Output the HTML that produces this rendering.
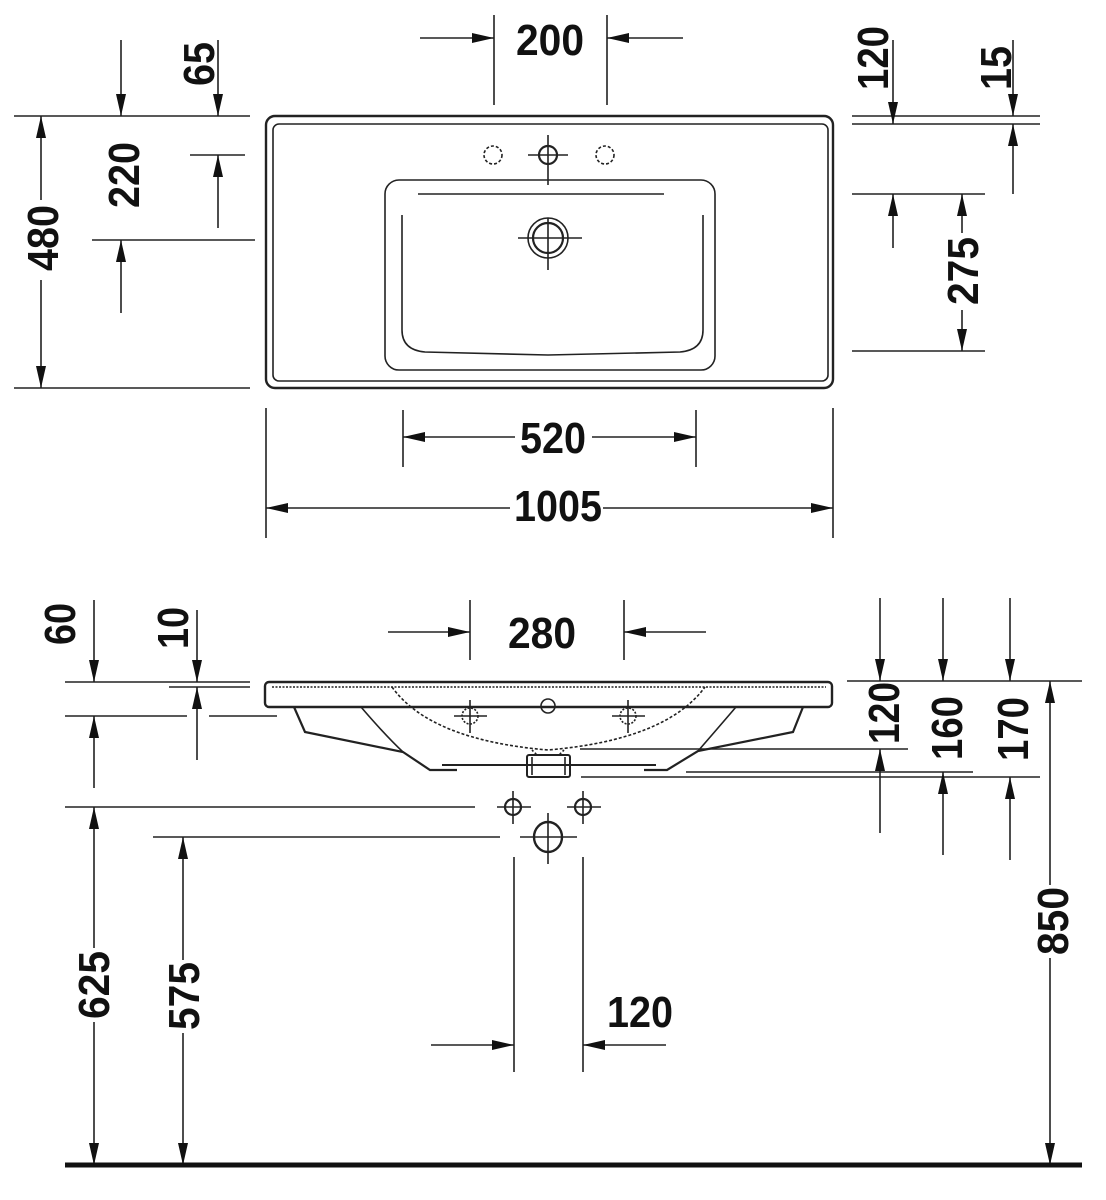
<!DOCTYPE html>
<html><head><meta charset="utf-8"><style>
html,body{margin:0;padding:0;background:#fff}
svg{display:block}
text{font-family:"Liberation Sans",sans-serif;font-weight:bold;font-size:44px;fill:#111}
</style></head><body>
<svg width="1106" height="1200" viewBox="0 0 1106 1200" xmlns="http://www.w3.org/2000/svg">
<g stroke="#222" stroke-width="1.6" fill="none">
<!-- TOP VIEW basin -->
<rect x="266" y="116" width="567" height="272" rx="9" stroke-width="2.4"/>
<rect x="273" y="124" width="555" height="257" rx="6"/>
<rect x="385" y="180" width="330" height="190" rx="14"/>
<path d="M402 215 V330 Q402 350 425 352 L548 355 L680 352 Q703 350 703 330 V215"/>
<line x1="418" y1="194" x2="664" y2="194"/>
<circle cx="548" cy="155" r="9" stroke-width="2.2"/>
<line x1="528" y1="155" x2="568" y2="155"/><line x1="548" y1="135" x2="548" y2="185"/>
<circle cx="493" cy="155" r="9" stroke-dasharray="3 2"/>
<circle cx="605" cy="155" r="9" stroke-dasharray="3 2"/>
<circle cx="548" cy="238" r="20"/><circle cx="548" cy="238" r="15" stroke-width="2.2"/>
<line x1="518" y1="238" x2="582" y2="238"/><line x1="548" y1="218" x2="548" y2="270"/>

<!-- top dimensions -->
<line x1="494" y1="15" x2="494" y2="105"/><line x1="607" y1="15" x2="607" y2="105"/>
<line x1="420" y1="38" x2="494" y2="38"/><line x1="607" y1="38" x2="683" y2="38"/>
<line x1="121" y1="40" x2="121" y2="116"/><line x1="218" y1="40" x2="218" y2="116"/>
<line x1="14" y1="116" x2="250" y2="116"/><line x1="14" y1="388" x2="250" y2="388"/>
<line x1="41" y1="116" x2="41" y2="200"/><line x1="41" y1="280" x2="41" y2="388"/>
<line x1="190" y1="155" x2="245" y2="155"/><line x1="92" y1="240" x2="255" y2="240"/>
<line x1="218" y1="155" x2="218" y2="228"/><line x1="121" y1="240" x2="121" y2="313"/>
<line x1="852" y1="116" x2="1040" y2="116"/><line x1="852" y1="124" x2="1040" y2="124"/>
<line x1="893" y1="40" x2="893" y2="124"/><line x1="1013" y1="40" x2="1013" y2="116"/>
<line x1="1013" y1="124" x2="1013" y2="194"/>
<line x1="852" y1="194" x2="985" y2="194"/><line x1="852" y1="351" x2="985" y2="351"/>
<line x1="893" y1="194" x2="893" y2="248"/>
<line x1="962" y1="194" x2="962" y2="233"/><line x1="962" y1="310" x2="962" y2="351"/>
<line x1="403" y1="410" x2="403" y2="467"/><line x1="696" y1="410" x2="696" y2="467"/>
<line x1="403" y1="437" x2="515" y2="437"/><line x1="592" y1="437" x2="696" y2="437"/>
<line x1="266" y1="408" x2="266" y2="538"/><line x1="833" y1="408" x2="833" y2="538"/>
<line x1="266" y1="508" x2="510" y2="508"/><line x1="603" y1="508" x2="833" y2="508"/>

<!-- SIDE VIEW -->
<rect x="265" y="682" width="567" height="25" rx="4" stroke-width="2.4"/>
<line x1="272" y1="687" x2="826" y2="687" stroke-dasharray="2 1.5"/>
<polyline points="294,707 305,732 403,752 430,770 457,770" stroke-width="2.2"/>
<polyline points="803,707 793,732 698,751 667,770 644,770" stroke-width="2.2"/>
<line x1="442" y1="765" x2="656" y2="765" stroke-width="2"/>
<path d="M361 707 Q385 735 403 752"/><path d="M736 707 Q712 735 698 751"/>
<path d="M392 687 Q430 740 548 750 Q666 740 705 687" stroke-dasharray="3 2"/>
<path d="M532 750 L537 755 M564 750 L559 755" stroke-dasharray="2 2"/>
<rect x="527" y="755" width="43" height="22" rx="2" stroke-width="2"/>
<line x1="532" y1="757" x2="532" y2="775"/><line x1="565" y1="757" x2="565" y2="775"/>
<ellipse cx="548" cy="706" rx="7" ry="7"/>
<circle cx="470" cy="716" r="8" stroke-dasharray="2 1.5"/>
<line x1="454" y1="716" x2="487" y2="716"/><line x1="470" y1="700" x2="470" y2="733"/>
<circle cx="628" cy="716" r="8" stroke-dasharray="2 1.5"/>
<line x1="612" y1="716" x2="645" y2="716"/><line x1="628" y1="700" x2="628" y2="733"/>
<circle cx="513" cy="807" r="8" stroke-width="2.2"/>
<line x1="497" y1="807" x2="531" y2="807"/><line x1="513" y1="791" x2="513" y2="824"/>
<circle cx="583" cy="807" r="8" stroke-width="2.2"/>
<line x1="567" y1="807" x2="601" y2="807"/><line x1="583" y1="791" x2="583" y2="824"/>
<ellipse cx="548" cy="837" rx="14" ry="15" stroke-width="2.4"/>
<line x1="520" y1="837" x2="577" y2="837"/><line x1="548" y1="813" x2="548" y2="864"/>

<!-- side dims -->
<line x1="65" y1="682" x2="250" y2="682"/><line x1="169" y1="687" x2="250" y2="687"/>
<line x1="65" y1="716" x2="187" y2="716"/><line x1="209" y1="716" x2="277" y2="716"/>
<line x1="94" y1="600" x2="94" y2="682"/><line x1="94" y1="716" x2="94" y2="788"/>
<line x1="197" y1="610" x2="197" y2="682"/><line x1="197" y1="687" x2="197" y2="760"/>
<line x1="470" y1="600" x2="470" y2="660"/><line x1="624" y1="600" x2="624" y2="660"/>
<line x1="388" y1="632" x2="470" y2="632"/><line x1="624" y1="632" x2="706" y2="632"/>
<line x1="65" y1="807" x2="475" y2="807"/><line x1="153" y1="837" x2="500" y2="837"/>
<line x1="94" y1="807" x2="94" y2="948"/><line x1="94" y1="1022" x2="94" y2="1165"/>
<line x1="183" y1="837" x2="183" y2="960"/><line x1="183" y1="1033" x2="183" y2="1165"/>
<line x1="514" y1="857" x2="514" y2="1072"/><line x1="583" y1="857" x2="583" y2="1072"/>
<line x1="431" y1="1045" x2="514" y2="1045"/><line x1="583" y1="1045" x2="666" y2="1045"/>
<line x1="847" y1="681" x2="1082" y2="681"/>
<line x1="580" y1="749" x2="908" y2="749"/>
<line x1="686" y1="772" x2="973" y2="772"/>
<line x1="581" y1="777" x2="1040" y2="777"/>
<line x1="880" y1="598" x2="880" y2="681"/><line x1="880" y1="749" x2="880" y2="833"/>
<line x1="943" y1="598" x2="943" y2="681"/><line x1="943" y1="772" x2="943" y2="855"/>
<line x1="1010" y1="598" x2="1010" y2="681"/><line x1="1010" y1="777" x2="1010" y2="860"/>
<line x1="1050" y1="681" x2="1050" y2="885"/><line x1="1050" y1="958" x2="1050" y2="1165"/>
</g>
<line x1="65" y1="1165" x2="1082" y2="1165" stroke="#111" stroke-width="5"/>

<g fill="#111">
<!-- top arrows -->
<polygon points="494,38 472,33 472,43"/><polygon points="607,38 629,33 629,43"/>
<polygon points="121,116 116,94 126,94"/><polygon points="218,116 213,94 223,94"/>
<polygon points="41,116 36,138 46,138"/><polygon points="41,388 36,366 46,366"/>
<polygon points="218,155 213,177 223,177"/><polygon points="121,240 116,262 126,262"/>
<polygon points="893,124 888,102 898,102"/><polygon points="1013,116 1008,94 1018,94"/>
<polygon points="1013,124 1008,146 1018,146"/><polygon points="893,194 888,216 898,216"/>
<polygon points="962,194 957,216 967,216"/><polygon points="962,351 957,329 967,329"/>
<polygon points="403,437 425,432 425,442"/><polygon points="696,437 674,432 674,442"/>
<polygon points="266,508 288,503 288,513"/><polygon points="833,508 811,503 811,513"/>
<!-- side arrows -->
<polygon points="94,682 89,660 99,660"/><polygon points="94,716 89,738 99,738"/>
<polygon points="197,682 192,660 202,660"/><polygon points="197,687 192,709 202,709"/>
<polygon points="470,632 448,627 448,637"/><polygon points="624,632 646,627 646,637"/>
<polygon points="94,807 89,829 99,829"/><polygon points="94,1165 89,1143 99,1143"/>
<polygon points="183,837 178,859 188,859"/><polygon points="183,1165 178,1143 188,1143"/>
<polygon points="514,1045 492,1040 492,1050"/><polygon points="583,1045 605,1040 605,1050"/>
<polygon points="880,681 875,659 885,659"/><polygon points="880,749 875,771 885,771"/>
<polygon points="943,681 938,659 948,659"/><polygon points="943,772 938,794 948,794"/>
<polygon points="1010,681 1005,659 1015,659"/><polygon points="1010,777 1005,799 1015,799"/>
<polygon points="1050,681 1045,703 1055,703"/><polygon points="1050,1165 1045,1143 1055,1143"/>
</g>

<g text-anchor="middle">
<text x="550" y="55" textLength="68" lengthAdjust="spacingAndGlyphs">200</text>
<text x="553" y="453" textLength="66" lengthAdjust="spacingAndGlyphs">520</text>
<text x="558" y="521" textLength="88" lengthAdjust="spacingAndGlyphs">1005</text>
<text x="542" y="648" textLength="68" lengthAdjust="spacingAndGlyphs">280</text>
<text x="640" y="1027" textLength="66" lengthAdjust="spacingAndGlyphs">120</text>
<text transform="translate(198,64) rotate(-90)" y="16" textLength="44" lengthAdjust="spacingAndGlyphs">65</text>
<text transform="translate(42,238) rotate(-90)" y="16" textLength="66" lengthAdjust="spacingAndGlyphs">480</text>
<text transform="translate(123,175) rotate(-90)" y="16" textLength="66" lengthAdjust="spacingAndGlyphs">220</text>
<text transform="translate(872,58) rotate(-90)" y="16" textLength="64" lengthAdjust="spacingAndGlyphs">120</text>
<text transform="translate(995,68) rotate(-90)" y="16" textLength="44" lengthAdjust="spacingAndGlyphs">15</text>
<text transform="translate(962,271) rotate(-90)" y="16" textLength="68" lengthAdjust="spacingAndGlyphs">275</text>
<text transform="translate(59,624) rotate(-90)" y="16" textLength="42" lengthAdjust="spacingAndGlyphs">60</text>
<text transform="translate(172,628) rotate(-90)" y="16" textLength="42" lengthAdjust="spacingAndGlyphs">10</text>
<text transform="translate(883,713) rotate(-90)" y="16" textLength="62" lengthAdjust="spacingAndGlyphs">120</text>
<text transform="translate(946,728) rotate(-90)" y="16" textLength="64" lengthAdjust="spacingAndGlyphs">160</text>
<text transform="translate(1012,729) rotate(-90)" y="16" textLength="64" lengthAdjust="spacingAndGlyphs">170</text>
<text transform="translate(1052,921) rotate(-90)" y="16" textLength="68" lengthAdjust="spacingAndGlyphs">850</text>
<text transform="translate(93,985) rotate(-90)" y="16" textLength="68" lengthAdjust="spacingAndGlyphs">625</text>
<text transform="translate(183,996) rotate(-90)" y="16" textLength="68" lengthAdjust="spacingAndGlyphs">575</text>
</g>
</svg>
</body></html>
